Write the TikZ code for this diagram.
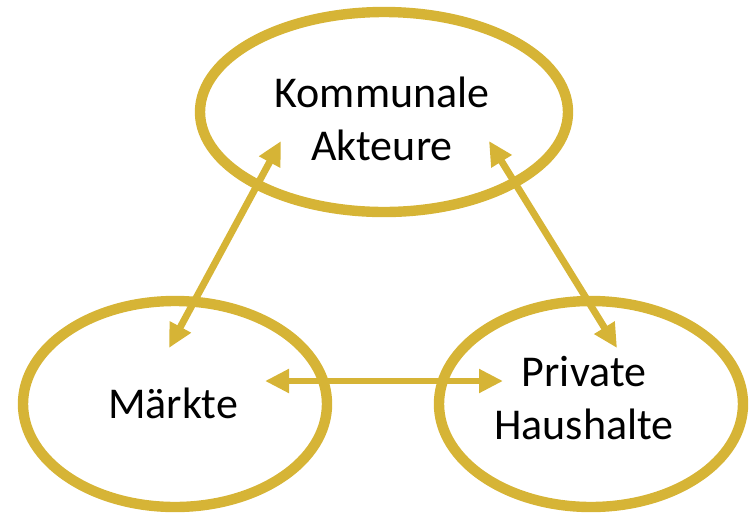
\documentclass[tikz,border=0pt]{standalone}
\usepackage{fontspec}
\setmainfont{Carlito}
\usetikzlibrary{arrows.meta,shapes.geometric}
\definecolor{gold}{RGB}{214,180,54}
\begin{document}
\begin{tikzpicture}[x=0.75pt,y=-0.75pt]
		\tikzset{ring/.style = {shape=ellipse,draw=gold,line width=7.8pt,inner sep=0pt}}
		\tikzset{lbl/.style = {align=center,inner sep=0pt,font=\fontsize{33}{40}\selectfont}}
		\tikzset{link/.style = {{Triangle[length=18pt,width=17pt]}-{Triangle[length=18pt,width=17pt]},color=gold,line width=5.2pt}}
		\useasboundingbox (0,0) rectangle (751,512);
		\node[ring,minimum width=276pt,minimum height=150pt] (kommunal) at (384,112) {};
		\node[ring,minimum width=228pt,minimum height=154.5pt] (maerkte) at (175,404) {};
		\node[ring,minimum width=228pt,minimum height=154.5pt] (haushalt) at (591,404) {};
		\node[lbl] (kommunaltext) at (382,119) {Kommunale\\Akteure};
		\node[lbl] (maerktetext) at (173,403) {Märkte};
		\node[lbl] (haushalttext) at (584,398) {Private\\Haushalte};
		\coordinate (k1) at (281,141);
		\coordinate (m1) at (169,348);
		\coordinate (k2) at (489,141);
		\coordinate (h1) at (617,348);
		\coordinate (m2) at (265,381);
		\coordinate (h2) at (503,381);
		\draw[link] (k1) -- (m1);
		\draw[link] (k2) -- (h1);
		\draw[link] (m2) -- (h2);
	\end{tikzpicture}
\end{document}
